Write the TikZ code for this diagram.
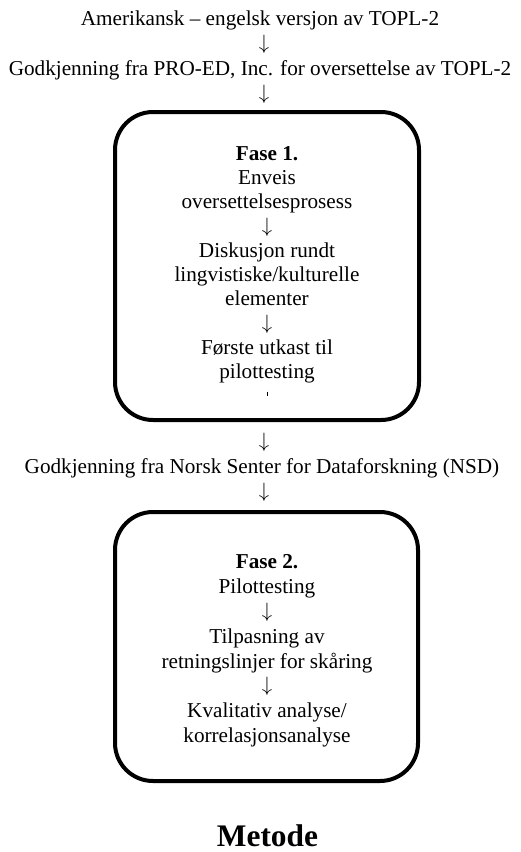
\documentclass[tikz,border=0pt]{standalone}
\usepackage{fontspec}
\setmainfont{Liberation Serif}
\begin{document}
\begin{tikzpicture}[x=1pt,y=-1pt,
  txt/.style={anchor=base,inner sep=0pt,font=\fontsize{21.2}{24}\selectfont},
  boldtxt/.style={txt,font=\fontsize{21.2}{24}\bfseries\selectfont},
  arr/.style={anchor=base,inner sep=0pt,font=\fontsize{22.5}{24}\selectfont},
  phasebox/.style={draw,line width=4pt,rounded corners=38pt,inner sep=0pt},
  title/.style={anchor=base,inner sep=0pt,font=\fontsize{31.4}{36}\bfseries\selectfont}]
\useasboundingbox (0,0) rectangle (520,852);
% top lines
\node[txt] (l1) at (260,25) {Amerikansk – engelsk versjon av TOPL-2};
\node[arr] (a1) at (264,49) {$\downarrow$};
\node[txt] (l2) at (260,75) {Godkjenning fra PRO-ED, Inc. for oversettelse av TOPL-2};
\node[arr] (a2) at (264,99) {$\downarrow$};
% box 1
\node[phasebox,minimum width=304pt,minimum height=308pt] (box1) at (267,266) {};
\node[boldtxt] (f1) at (267,160) {Fase 1.};
\node[txt] (b1a) at (267,184.3) {Enveis};
\node[txt] (b1b) at (267,208.6) {oversettelsesprosess};
\node[arr] (b1c) at (267,232) {$\downarrow$};
\node[txt] (b1d) at (267,257.2) {Diskusjon rundt};
\node[txt] (b1e) at (267,281.5) {lingvistiske/kulturelle};
\node[txt] (b1f) at (267,305.8) {elementer};
\node[arr] (b1g) at (267,329.2) {$\downarrow$};
\node[txt] (b1h) at (267,354.4) {Første utkast til};
\node[txt] (b1i) at (267,378.7) {pilottesting};
\coordinate (tickA) at (267.5,391.5);
\coordinate (tickB) at (267.5,396);
\draw[line width=0.9pt] (tickA) -- (tickB);
% middle
\node[arr] (a3) at (264,447) {$\downarrow$};
\node[txt] (l3) at (262,473) {Godkjenning fra Norsk Senter for Dataforskning (NSD)};
\node[arr] (a4) at (264,497) {$\downarrow$};
% box 2
\node[phasebox,minimum width=303pt,minimum height=269pt] (box2) at (266.5,646.5) {};
\node[boldtxt] (f2) at (267,568) {Fase 2.};
\node[txt] (b2a) at (267,593) {Pilottesting};
\node[arr] (b2b) at (267,617) {$\downarrow$};
\node[txt] (b2c) at (267,643) {Tilpasning av};
\node[txt] (b2d) at (267,668) {retningslinjer for skåring};
\node[arr] (b2e) at (267,691.5) {$\downarrow$};
\node[txt] (b2f) at (267,717) {Kvalitativ analyse/};
\node[txt] (b2g) at (267,742) {korrelasjonsanalyse};
% title
\node[title] (metode) at (267.5,846) {Metode};
\end{tikzpicture}
\end{document}
